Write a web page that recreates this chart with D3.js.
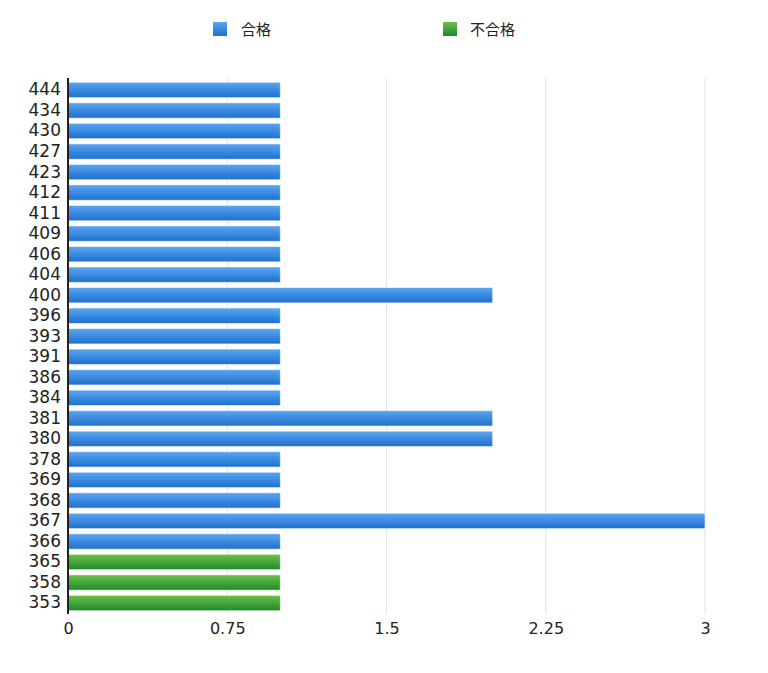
<!DOCTYPE html>
<html><head><meta charset="utf-8">
<script src="https://cdn.jsdelivr.net/npm/d3@7"></script>
<style>body{margin:0;background:#fff}svg{font-family:"Noto Sans CJK JP","DejaVu Sans",sans-serif}</style>
</head><body><svg id="c" width="768" height="673"></svg>
<script>
const categories=["444","434","430","427","423","412","411","409","406","404","400","396","393","391","386","384","381","380","378","369","368","367","366","365","358","353"];
const values=[1,1,1,1,1,1,1,1,1,1,2,1,1,1,1,1,2,2,1,1,1,3,1,1,1,1];
const status=["合格","合格","合格","合格","合格","合格","合格","合格","合格","合格","合格","合格","合格","合格","合格","合格","合格","合格","合格","合格","合格","合格","合格","不合格","不合格","不合格"];
const series=["合格","不合格"];
const ticks=[0,0.75,1.5,2.25,3];
const svg=d3.select("#c");
const defs=svg.append("defs");
const cols={"合格":["#5aa6f0","#1e6fd0"],"不合格":["#6cc04a","#1f8a2c"]};
series.forEach((s,i)=>{const g=defs.append("linearGradient").attr("id","g"+i).attr("x1",0).attr("y1",0).attr("x2",0).attr("y2",1);
g.append("stop").attr("offset","0").attr("stop-color",cols[s][0]);g.append("stop").attr("offset","1").attr("stop-color",cols[s][1]);});
const x=d3.scaleLinear().domain([0,3]).range([68,705]);
const y=d3.scaleBand().domain(categories).range([79.7,613.3]).paddingInner(0.25).paddingOuter(0.125);
svg.append("g").selectAll("line").data(ticks.slice(1)).join("line").attr("x1",d=>x(d)).attr("x2",d=>x(d)).attr("y1",78).attr("y2",614).attr("stroke","#e2e2e2");
svg.append("g").selectAll("rect").data(categories).join("rect").attr("x",x(0)).attr("y",c=>y(c)).attr("height",y.bandwidth()).attr("width",(c,i)=>x(values[i])-x(0))
 .attr("fill",(c,i)=>`url(#g${series.indexOf(status[i])})`).attr("stroke","rgba(255,255,255,0.6)").attr("stroke-width",1);
svg.append("line").attr("x1",68).attr("x2",68).attr("y1",78).attr("y2",614).attr("stroke","#222").attr("stroke-width",2);
const ya=svg.append("g").attr("transform","translate(61,0)").call(d3.axisLeft(y).tickSize(0).tickPadding(0));
ya.select(".domain").remove();ya.selectAll("text").attr("font-size",17).attr("fill","#222").attr("font-family","DejaVu Sans");
const xa=svg.append("g").attr("transform","translate(0,620)").call(d3.axisBottom(x).tickValues(ticks).tickSize(0).tickFormat(d=>String(d)));
xa.select(".domain").remove();xa.selectAll("text").attr("font-size",16).attr("fill","#222").attr("font-family","DejaVu Sans");
const lg=svg.append("g");
[[213,241],[443,470]].forEach((p,i)=>{lg.append("rect").attr("x",p[0]).attr("y",22).attr("width",14).attr("height",14).attr("fill",`url(#g${i})`);
lg.append("text").attr("x",p[1]).attr("y",35).attr("font-size",15).attr("fill","#222").text(series[i]);});
</script></body></html>
